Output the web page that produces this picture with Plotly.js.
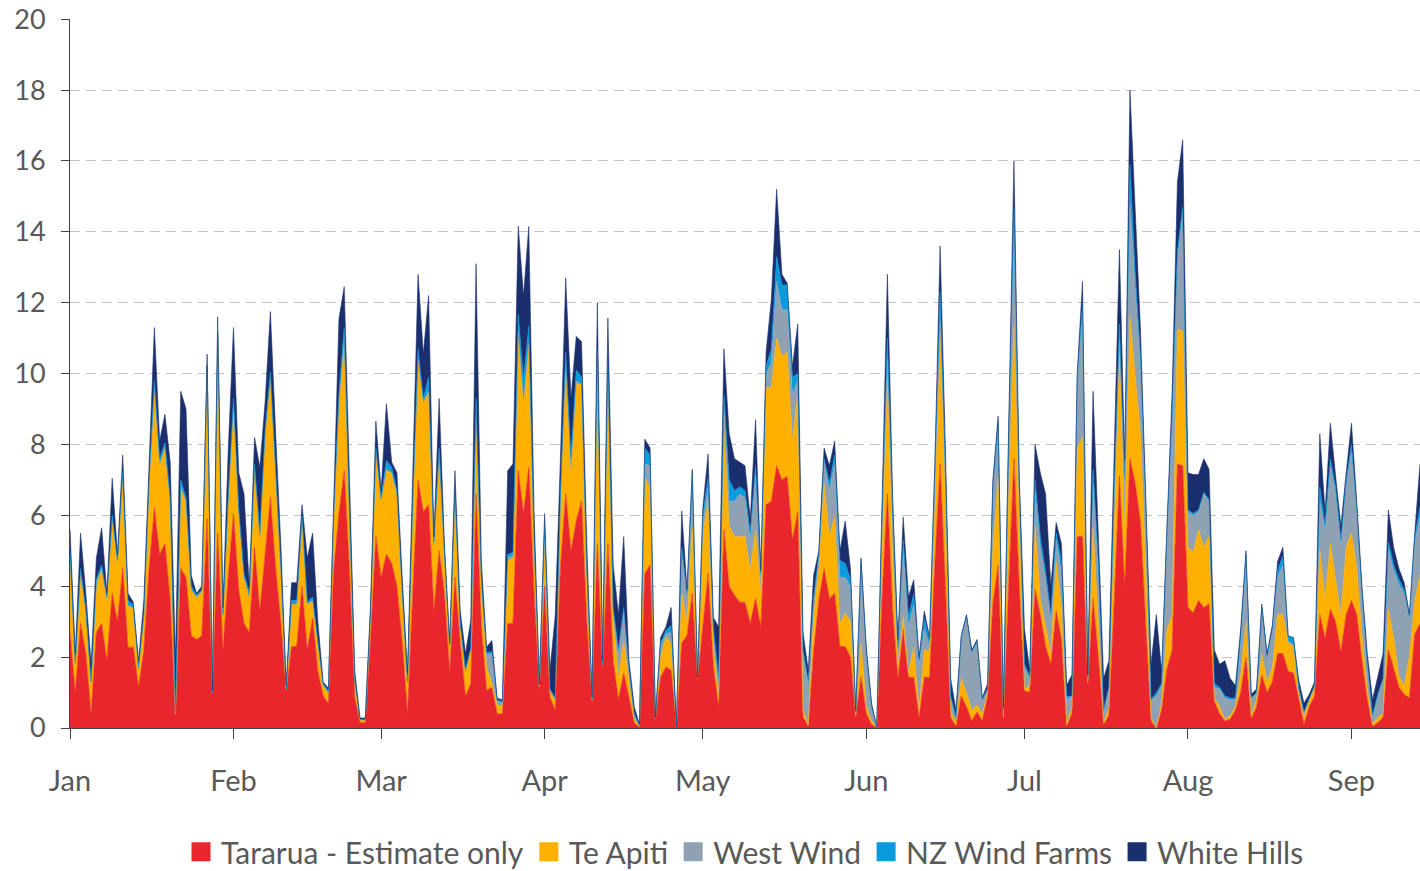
<!DOCTYPE html>
<html>
<head>
<meta charset="utf-8">
<script src="https://cdn.plot.ly/plotly-3.0.1.min.js"></script>
<style>
html,body{margin:0;padding:0;background:#fff;}
#chart{width:1420px;height:871px;}
</style>
</head>
<body>
<div id="chart"></div>
<script>
// Daily generation, 1 Jan to 14 Sep (one value per day)
const startDate = '2021-01-01';
const endDate = '2021-09-14';
const seriesNames = ['Tararua - Estimate only', 'Te Apiti', 'West Wind', 'NZ Wind Farms', 'White Hills'];
const seriesColors = ['#E8262C', '#FFB000', '#8EA2B4', '#0A9BDC', '#1B2F6E'];

const tararua = [2.7,1.0,2.95,2.1,0.4,2.7,2.95,1.9,3.8,3.0,
4.5,2.28,2.28,1.15,2.2,4.5,6.2,4.9,5.2,3.6,
0.3,4.5,4.25,2.6,2.5,2.6,5.9,0.95,5.5,2.2,
4.25,6.05,3.9,2.95,2.7,5.1,3.3,4.9,6.5,4.5,
2.95,1.0,2.3,2.3,4.0,2.2,3.1,1.6,0.9,0.7,
4.45,6.05,7.25,4.45,0.85,0.15,0.15,2.5,5.4,4.25,
4.9,4.65,4.0,2.4,0.4,3.8,7.0,6.1,6.3,3.3,
5.0,3.8,1.55,4.25,2.4,0.9,1.25,6.6,2.85,1.06,
1.15,0.4,0.4,2.95,2.95,7.26,6.05,7.35,3.8,1.07,
4.0,0.87,0.5,4.5,6.6,5.0,5.85,6.4,3.0,0.7,
5.2,1.6,5.2,1.9,0.8,1.55,0.8,0.15,0.02,4.36,
4.6,0.25,1.43,1.72,1.63,0.02,2.4,2.6,3.8,1.35,
2.85,4.36,1.72,0.6,5.6,4.0,3.75,3.55,3.55,2.95,
3.65,2.85,6.3,6.4,7.4,7.0,7.1,5.3,6.1,0.3,
0.05,2.15,3.6,4.5,3.65,3.8,2.3,2.3,2.0,0.3,
1.45,0.4,0.1,0.01,3.7,6.6,3.3,1.4,2.77,1.43,
1.43,0.3,1.43,1.43,4.64,7.45,4.0,0.3,0.05,0.9,
0.6,0.2,0.45,0.2,0.9,3.5,4.6,0.2,4.0,7.6,
4.0,1.05,1.0,3.9,3.2,2.3,1.8,3.3,2.5,0.05,
0.4,5.4,5.4,1.2,3.65,2.0,0.1,0.35,3.5,7.1,
4.0,7.6,6.9,5.8,2.9,0.2,0,0.5,1.65,2.2,
7.45,7.4,3.4,3.25,3.6,3.4,3.5,0.75,0.4,0.2,
0.25,0.5,1.0,2.0,0.25,0.6,1.5,1.0,1.3,2.1,
2.1,1.6,1.55,0.8,0.1,0.6,0.9,3.2,2.55,3.35,
3.0,2.15,3.2,3.6,3.2,1.9,0.8,0.05,0.15,0.3,
2.2,1.7,1.15,0.95,0.85,2.65,2.95];

const teApiti = [2.1,0.8,1.45,1.2,0.9,1.4,1.55,1.75,2.05,1.7,
2.55,1.18,1.1,0.55,1.0,2.4,3.3,2.55,2.7,2.8,
0.1,2.3,2.15,1.3,1.2,1.25,4.3,0.05,5.6,1.0,
2.15,3.15,2.2,1.3,1.0,2.25,2.1,3.4,3.4,2.8,
1.5,0.1,1.2,1.2,1.9,1.3,0.5,0.8,0.3,0.3,
1.5,3.1,3.75,1.5,0.5,0.08,0.08,0.8,2.4,2.2,
2.4,2.55,2.6,1.4,0.9,2.5,3.4,3.1,3.2,1.9,
2.7,1.1,0.75,2.35,0.5,0.7,1.0,2.3,1.3,0.65,
0.1,0.25,0.2,1.75,1.85,3.8,3.15,3.45,1.5,0.1,
1.2,0.2,0.3,2.0,3.75,2.26,3.85,3.3,1.4,0.1,
5.3,0.2,5.0,1.2,0.63,0.9,0.5,0.1,0.02,2.7,
2.2,0.02,0.57,0.84,0.77,0.01,1.4,0.4,1.85,0.03,
2.63,2.04,0.6,0.2,2.8,1.7,1.65,1.85,1.85,1.5,
1.95,0.9,3.3,3.2,3.6,3.5,3.5,2.8,3.3,0.2,
0.02,1.0,0.9,2.4,1.75,2.15,0.65,0.94,1.0,0.05,
0.95,0.2,0.1,0.01,1.5,3.3,1.5,0.3,0.37,0.12,
0.85,0.2,0.77,0.77,1.5,3.75,2.3,0.2,0.05,0.5,
0.4,0.3,0.2,0.2,0.1,1.5,2.5,0.1,2.5,3.8,
1.8,0.05,0.2,1.8,0.45,0.6,0.3,1.4,0.9,0.05,
0.2,2.5,2.8,0.1,2.0,1.0,0.05,0.2,1.8,3.5,
1.5,4.0,3.0,2.5,1.6,0.1,0,0.2,1.1,1.0,
3.8,3.8,1.7,1.7,2.0,1.7,1.9,0.1,0.2,0.05,
0.1,0.1,0.5,1.0,0.1,0.2,0.6,0.3,0.4,1.1,
1.1,0.8,0.75,0.2,0.2,0.2,0.2,1.8,1.1,1.85,
1.2,1.05,1.9,1.9,1.3,0.7,0.3,0.05,0.15,0.1,
1.15,0.85,0.3,0.25,1.2,0.9,1.4];

const westWind = [0.1,0,0,0,0,0,0,0,0.05,0,
0.1,0,0,0,0,0,0.1,0,0,0,
0,0,0,0,0,0,0,0,0,0,
0,0,0,0,0,0,0,0,0,0,
0,0,0,0,0,0,0,0,0,0,
0,0,0,0,0,0,0,0,0,0,
0,0,0,0,0,0,0,0,0,0,
0,0,0,0,0,0,0,0,0,0.35,
0.85,0.1,0.1,0.1,0.05,0.1,0.05,0.05,0,0,
0.1,0,0,0,0,0.1,0.1,0,0,0,
0,0,0,0.2,0.7,0.9,0.3,0.1,0.02,0.39,
0.6,0,0.3,0.09,0.3,0.01,1.1,0.7,1.15,0.03,
0.3,0.4,0.4,0.5,0.8,0.7,1.0,1.2,1.1,0.85,
1.6,0.5,0.4,0.7,1.6,1.3,1.2,1.3,0.4,1.6,
1.2,0.4,0.3,0.6,1.3,1.5,1.31,1.0,1.0,0.1,
2.2,1.5,0.4,0.01,0.8,0.55,1.2,0.5,1.96,1.3,
1.2,1.3,0.6,0.1,0.8,0.37,0.8,0.3,0.2,1.15,
2.15,1.65,1.8,0.4,0.1,1.7,1.4,0.2,1.5,2.5,
1.0,0.6,0.2,1.0,1.45,1.3,1.0,0.6,1.0,0.7,
0.3,1.9,3.4,0.1,1.4,1.5,0.3,0.6,1.2,0.6,
1.4,3.2,2.5,1.9,1.6,0.5,0.9,0.5,2.7,5.5,
1.9,3.4,1.0,1.05,0.5,1.5,1.0,0.3,0.5,0.6,
0.45,0.2,1.0,1.7,0.5,0.2,1.2,0.7,1.0,1.05,
1.4,0.05,0.05,0.1,0.1,0.05,0.1,1.4,1.9,2.2,
2.4,2.0,1.7,2.3,1.6,1.1,0.7,0.2,0.6,1.0,
1.7,1.9,2.6,2.6,1.0,1.7,1.6];

const nzWindFarms = [0.1,0.05,0.1,0.05,0,0.1,0.1,0.05,0.1,0.05,
0.1,0.14,0.1,0,0,0.1,0.2,0.15,0.15,0.1,
0.05,0.2,0.1,0.1,0.05,0.05,0.05,0,0.05,0,
0.1,0.1,0.1,0.1,0.1,0.1,0.1,0.1,0.15,0.1,
0.05,0,0.1,0.1,0.1,0.05,0.1,0.05,0.05,0.05,
0.1,0.3,0.3,0.15,0,0.02,0,0,0.1,0.05,
0.25,0.15,0.1,0.05,0,0.1,0.3,0.1,0.4,0.05,
0.2,0.1,0.05,0.1,0.05,0.05,0,0.4,0.05,0.07,
0.05,0.04,0.05,0.1,0.1,0.5,0.6,0.5,0.1,0.03,
0.5,0.03,0.05,0.1,0.25,0.25,0.3,0.2,0.1,0.02,
0.2,0,0.17,0.1,0.07,0.05,0.05,0.05,0,0.45,
0.3,0,0.1,0.1,0.2,0,0.2,0.1,0.4,0,
0.25,0.26,0.1,0.1,0.2,0.6,0.3,0.2,0.2,0.2,
0.2,0.1,0.2,0.4,0.7,0.7,0.7,0.5,0.2,0.1,
0.05,0.1,0.1,0.1,0.2,0.25,0.47,0.4,0.2,0,
0.1,0.05,0,0,0.1,0.55,0.2,0.1,0.2,0.3,
0.3,0.1,0.3,0.2,0.2,0.73,0.3,0.1,0,0,
0,0,0,0,0,0.1,0.1,0,0.2,0.8,
0.1,0.1,0.05,0.3,0.3,0.2,0.1,0.2,0.3,0.1,
0,0.1,0.4,0,0.25,0.2,0.05,0,0.2,0.2,
0.2,1.1,0.4,0.3,0.2,0,0.1,0.05,0.1,0.2,
0.3,0.1,0.05,0.05,0.05,0.05,0.05,0.1,0.05,0.05,
0.05,0.05,0.1,0.2,0,0,0.1,0,0.1,0.2,
0.25,0.15,0.2,0.05,0.05,0,0,0.4,0.2,0.2,
0.2,0.1,0.2,0.2,0.1,0.1,0.05,0.05,0.05,0,
0.2,0.15,0.15,0.1,0.1,0.15,0.3];

const whiteHills = [0.6,0.25,1.0,0.45,0.5,0.6,1.05,0.1,1.05,0.15,
0.45,0.2,0.07,0.2,0.4,0.5,1.5,0.5,0.8,1.0,
1.5,2.5,2.5,0.3,0.05,0.1,0.3,0.05,0.45,0.2,
1.3,2.0,1.0,2.25,0.2,0.75,1.85,0.8,1.7,0.9,
0.6,0.1,0.5,0.5,0.3,1.25,1.8,0.55,0.05,0.07,
0.25,2.1,1.15,0.7,0.25,0.03,0.05,0.2,0.76,0.2,
1.6,0.15,0.5,0.4,0.25,0.8,2.1,1.25,2.3,0.15,
1.4,0.2,0.05,0.56,0.35,0.45,0.79,3.8,0.5,0.15,
0.32,0.05,0.05,2.36,2.5,2.5,2.35,2.8,0.7,0.05,
0.25,0.5,2.3,1.0,2.1,1.7,0.95,1.0,0.7,0.05,
1.3,0.1,1.2,1.2,1.0,2.0,0.25,0.2,0.04,0.25,
0.2,0.03,0.16,0.1,0.5,0.01,1.03,0.1,0.1,0.02,
0.17,0.67,0.3,1.45,1.3,1.3,0.9,0.7,0.7,0.4,
1.3,0.1,0.4,1.4,1.9,0.3,0.05,0.3,1.4,0.5,
0.3,0.65,0.1,0.3,0.5,0.4,0.27,1.2,0.3,0.05,
0.1,0.15,0.1,0,0.2,1.8,0.3,0.2,0.65,0.55,
0.4,0.1,0.2,0.06,0.3,1.3,0.5,0.5,0.2,0.05,
0.05,0.05,0.05,0.05,0.15,0.2,0.2,0.1,0.3,1.3,
0.2,1.0,0.15,1.0,1.8,2.2,0.8,0.3,0.5,0.3,
0.6,0.1,0.6,0.1,2.2,0.6,0.9,0.75,0.8,2.1,
0.5,2.1,1.8,0.7,0.2,1.0,2.2,0.35,0.05,0.6,
1.95,1.9,1.05,1.1,1.0,0.95,0.85,0.95,0.65,1.0,
0.55,0.35,0.2,0.1,0.1,0.1,0.1,0.1,0.1,0.25,
0.25,0,0,0.2,0.25,0.1,0.1,1.5,0.35,1.0,
0.3,0.4,0.2,0.6,0.2,0.2,0.25,0.45,0.5,0.7,
0.9,0.5,0.3,0.2,0.05,0.1,1.2];

const yTicks = [0,2,4,6,8,10,12,14,16,18,20];

// build the daily date axis from the start date
function dayList(start, n) {
  const out = [];
  const s = new Date(start + 'T00:00:00Z');
  for (let i = 0; i < n; i++) {
    const d = new Date(s.getTime() + i * 86400000);
    out.push(d.toISOString().slice(0, 10));
  }
  return out;
}
const dates = dayList(startDate, tararua.length);
const allSeries = [tararua, teApiti, westWind, nzWindFarms, whiteHills];

const traces = [];
allSeries.forEach((vals, i) => {
  traces.push({
    x: dates, y: vals, type: 'scatter', mode: 'lines',
    stackgroup: 'one', name: seriesNames[i],
    line: {width: 0.6, color: seriesColors[i], shape: 'linear'},
    fillcolor: seriesColors[i], showlegend: false, hoverinfo: 'skip'
  });
});
// legend swatches (squares)
allSeries.forEach((vals, i) => {
  traces.push({
    x: [null], y: [null], type: 'scatter', mode: 'markers', name: seriesNames[i],
    marker: {symbol: 'square', size: 16, color: seriesColors[i], line: {width: 3, color: seriesColors[i]}},
    showlegend: true, hoverinfo: 'skip'
  });
});

const layout = {
  width: 1420, height: 871,
  margin: {l: 70, r: 0, t: 19, b: 143, autoexpand: false},
  paper_bgcolor: '#ffffff', plot_bgcolor: '#ffffff',
  font: {family: 'Lato, "Open Sans", sans-serif', size: 28, color: '#595959'},
  xaxis: {
    type: 'date', range: [startDate, endDate],
    tick0: startDate, dtick: 'M1', tickformat: '%b',
    ticks: 'outside', ticklen: 10, tickcolor: '#404040', tickwidth: 1,
    showline: true, linecolor: '#404040', linewidth: 1,
    showgrid: false, zeroline: false, ticklabelstandoff: 17,
    tickfont: {size: 29, color: '#595959'}
  },
  yaxis: {
    range: [0, 20.005], tickvals: yTicks, ticktext: yTicks.map(String),
    ticks: 'outside', ticklen: 8, tickcolor: '#404040', tickwidth: 1,
    showline: true, linecolor: '#404040', linewidth: 1,
    showgrid: true, gridcolor: '#C4C4C4', gridwidth: 1, griddash: '10px,6px',
    zeroline: false, ticklabelstandoff: 10, ticklabeloverflow: 'allow',
    tickfont: {size: 27, color: '#595959'}
  },
  showlegend: true,
  legend: {
    orientation: 'h', x: 0.5, xanchor: 'center',
    yref: 'container', y: 0.022, yanchor: 'middle',
    font: {size: 30, color: '#595959'}, traceorder: 'normal', itemwidth: 30,
    bgcolor: 'rgba(0,0,0,0)'
  },
  hovermode: false
};

Plotly.newPlot('chart', traces, layout, {displayModeBar: false, staticPlot: true});
</script>
</body>
</html>
